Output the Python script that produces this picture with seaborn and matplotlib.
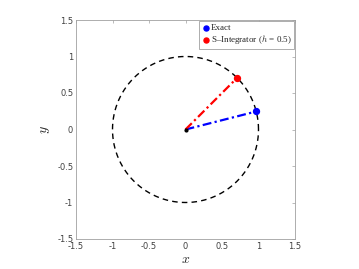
import numpy as np
import pandas as pd
import matplotlib
matplotlib.use("Agg")
import matplotlib.pyplot as plt
import seaborn as sns

# Data
exact_point = [0.969, 0.247]
sint_point = [0.71, 0.71]
origin = [0.0, 0.0]
circle_angles = np.linspace(0, 2 * np.pi, 361)
ticks = [-1.5, -1, -0.5, 0, 0.5, 1, 1.5]
tick_labels = ["-1.5", "-1", "-0.5", "0", "0.5", "1", "1.5"]

sns.set_style("white")
plt.rcParams["mathtext.fontset"] = "cm"

fig = plt.figure(figsize=(3.59, 2.69), dpi=100)
ax = fig.add_axes([76 / 359, 1 - 239 / 269, 219 / 359, 219 / 269])

circle = pd.DataFrame({"x": np.cos(circle_angles), "y": np.sin(circle_angles)})
ax.plot(circle["x"], circle["y"], color="black", linestyle=(0, (4, 3)), linewidth=1.0)

exact_df = pd.DataFrame({"x": [origin[0], exact_point[0]], "y": [origin[1], exact_point[1]]})
sint_df = pd.DataFrame({"x": [origin[0], sint_point[0]], "y": [origin[1], sint_point[1]]})
sns.lineplot(data=exact_df, x="x", y="y", ax=ax, color="blue", linewidth=1.6,
             linestyle=(0, (4, 1.5, 1, 1.5)), sort=False)
sns.lineplot(data=sint_df, x="x", y="y", ax=ax, color="red", linewidth=1.6,
             linestyle=(0, (4, 1.5, 1, 1.5)), sort=False)

ax.scatter([exact_point[0]], [exact_point[1]], s=18, color="blue", zorder=5, label="Exact")
ax.scatter([sint_point[0]], [sint_point[1]], s=18, color="red", zorder=5,
           label=r"S–Integrator ($h$ = 0.5)")
ax.scatter([origin[0]], [origin[1]], s=4, color="black", zorder=6)

ax.set_xlim(-1.5, 1.5)
ax.set_ylim(-1.5, 1.5)
ax.set_xticks(ticks)
ax.set_xticklabels(tick_labels)
ax.set_yticks(ticks)
ax.set_yticklabels(tick_labels)
ax.tick_params(axis="both", which="both", labelsize=6, colors="#a0a0a0", direction="in",
               length=2, width=0.5, pad=2, top=True, right=True)
for lab in ax.get_xticklabels() + ax.get_yticklabels():
    lab.set_color("#404040")
for sp in ax.spines.values():
    sp.set_color("#a0a0a0")
    sp.set_linewidth(0.6)

ax.set_xlabel(r"$x$", fontsize=10, labelpad=1)
ax.set_ylabel(r"$y$", fontsize=10, labelpad=4, rotation=90)

leg = ax.legend(loc="upper right", frameon=True, fancybox=False,
                handletextpad=0.0, borderpad=0.25, labelspacing=0.15, handlelength=1.0,
                borderaxespad=0.15, markerscale=0.85,
                prop={"family": "Liberation Serif", "size": 6.5})
leg.get_frame().set_edgecolor("#a0a0a0")
leg.get_frame().set_linewidth(0.6)
leg.get_frame().set_alpha(1)

fig.savefig("out.png", dpi=100)
